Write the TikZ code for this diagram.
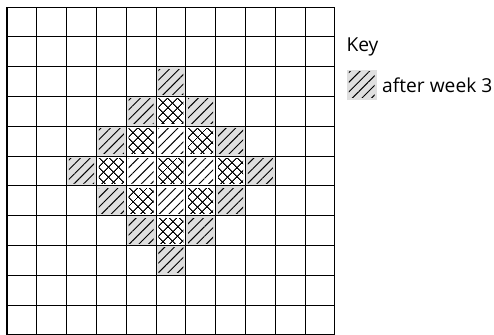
\documentclass[tikz,border=0pt]{standalone}
\usepackage{fontspec}
\setmainfont{Open Sans}
\usetikzlibrary{patterns.meta,positioning}

\begin{document}
\begin{tikzpicture}[x=0.6cm, y=0.6cm,
		cell/.style={line width=0.6pt, step=1},
		hatch/.style={pattern={Lines[angle=45, distance=3.9pt, line width=0.55pt]}},
		week3/.style={fill=gray!25},
		cross/.style={pattern={Lines[angle=45, distance=4pt, line width=0.6pt]},
			postaction={pattern={Lines[angle=-45, distance=4pt, line width=0.6pt]}}},
		keytext/.style={font=\fontsize{11pt}{13pt}\selectfont, inner sep=0pt}]
		\useasboundingbox (-0.235,0.235) rectangle (16.34,-11);
		
		\foreach \i in {0,...,10}
			\foreach \j in {0,...,10} {
				\pgfmathtruncatemacro\d{abs(\i-5)+abs(\j-5)}
				\ifcase\d
					\path[cross] (\i+0.08,-\j-0.08) rectangle ++(0.84,-0.84);
				\or
					\path[hatch] (\i+0.08,-\j-0.08) rectangle ++(0.84,-0.84);
				\or
					\path[cross] (\i+0.08,-\j-0.08) rectangle ++(0.84,-0.84);
				\or
					\path[week3] (\i,-\j) rectangle ++(1,-1);
					\path[hatch] (\i+0.08,-\j-0.08) rectangle ++(0.84,-0.84);
				\fi
			}
		\draw[cell] (0,0) grid (11,-11);
		
		\node[keytext, anchor=west] (key) at (11.38,-1.34) {Key};
		\node[week3, minimum size=0.6cm, inner sep=0pt] (swatch) at (11.9,-2.61) {};
		\path[hatch] ([shift={(0.08,-0.08)}]swatch.north west) rectangle ([shift={(-0.08,0.08)}]swatch.south east);
		\node[keytext, right=0.1cm of swatch] (after) {after week 3};
	\end{tikzpicture}
\end{document}
